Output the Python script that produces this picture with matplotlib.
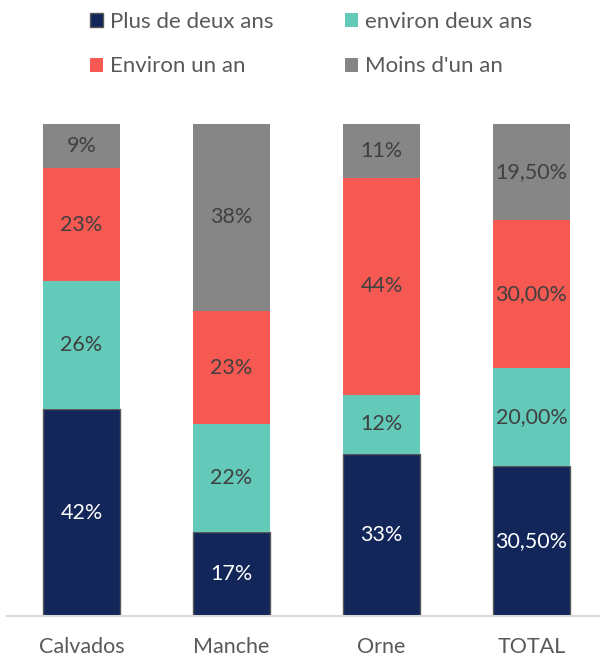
import matplotlib
matplotlib.use("Agg")
import matplotlib.pyplot as plt
import numpy as np

plt.rcParams['font.family'] = ['Lato', 'DejaVu Sans']

categories = ["Calvados", "Manche", "Orne", "TOTAL"]
series_names = ["Plus de deux ans", "environ deux ans", "Environ un an", "Moins d'un an"]
plus_deux = [42, 17, 33, 30.5]
environ_deux = [26, 22, 12, 20.0]
environ_un = [23, 23, 44, 30.0]
moins_un = [9, 38, 11, 19.5]
decimals = [0, 0, 0, 2]

colors = ["#12265A", "#63C9B9", "#F65952", "#868686"]
text_colors = ["white", "#404040", "#404040", "#404040"]

fig = plt.figure(figsize=(6.0, 6.58), dpi=100)
ax = fig.add_axes([6.5/600, 42/658, 600/600, 492/658])

x = np.arange(len(categories))
series = [plus_deux, environ_deux, environ_un, moins_un]
bottom = np.zeros(len(categories))
handles = []
for i, (vals, col) in enumerate(zip(series, colors)):
    vals = np.array(vals, dtype=float)
    if i == 0:
        b = ax.bar(x, vals, width=0.513, bottom=bottom, color=col,
                   edgecolor="#595959", linewidth=1.0, label=series_names[i])
    else:
        b = ax.bar(x, vals, width=0.513, bottom=bottom, color=col,
                   linewidth=0, label=series_names[i])
    handles.append(b)
    for j, v in enumerate(vals):
        d = decimals[j]
        s = f"{v:.{d}f}".replace(".", ",") + "%"
        ax.text(x[j], bottom[j] + v / 2, s, ha="center", va="center",
                fontsize=15.5, color=text_colors[i])
    bottom += vals

ax.set_xlim(-0.5, 3.5)
ax.set_ylim(0, 100)
ax.set_xticks(x)
ax.set_xticklabels(categories, fontsize=15.5, color="#595959")
ax.tick_params(axis="x", length=0, pad=15)
ax.set_yticks([])
for side in ["left", "right", "top"]:
    ax.spines[side].set_visible(False)
ax.spines["bottom"].set_color("#D9D9D9")
ax.spines["bottom"].set_linewidth(1.5)

order = [0, 2, 1, 3]
leg = fig.legend([handles[k] for k in order], [series_names[k] for k in order],
                 ncol=2, loc="upper left", bbox_to_anchor=(70/600, 1 + 8/658),
                 frameon=False, fontsize=16, labelcolor="#595959",
                 handlelength=0.58, handleheight=0.58, handletextpad=0.3,
                 labelspacing=1.1, columnspacing=3.25)

fig.savefig("out.png", dpi=100)
